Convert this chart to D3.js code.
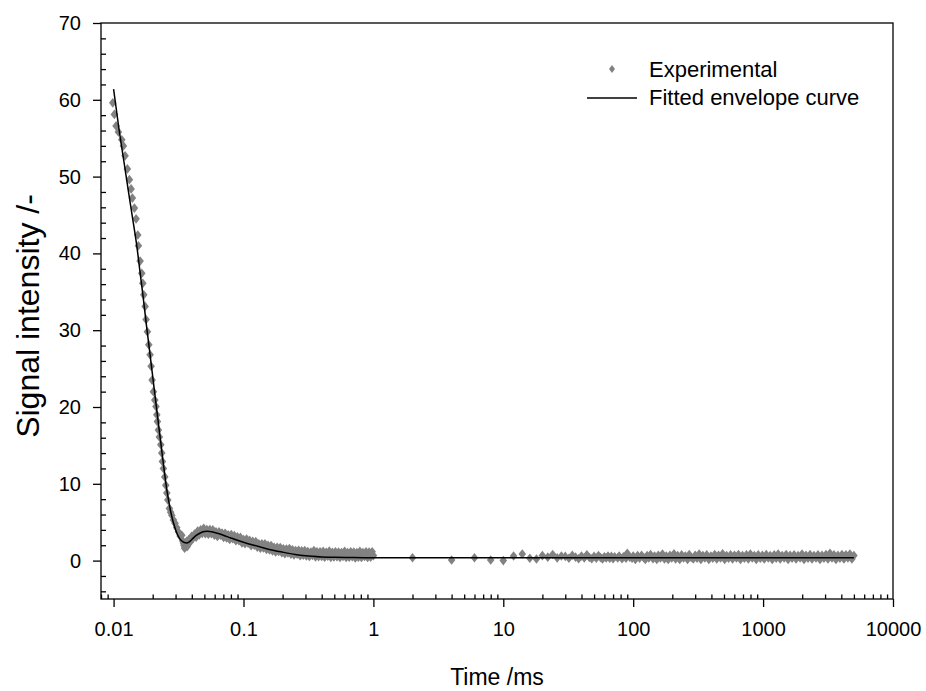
<!DOCTYPE html>
<html>
<head>
<meta charset="utf-8">
<script src="https://cdn.jsdelivr.net/npm/d3@7"></script>
<style>
  body { margin: 0; background: #fff; }
  svg text { font-family: "Liberation Sans", Arial, sans-serif; font-size: 22px; fill: #000; }
</style>
</head>
<body>
<div id="grafica"></div>
<script>
// steep initial decay, experimental points
const decayTime = [0.00986, 0.01014, 0.01045, 0.01089, 0.01156, 0.0119, 0.01226, 0.01277, 0.01323, 0.01364,
  0.01395, 0.01446, 0.0149, 0.01535, 0.01552, 0.016, 0.01648, 0.01679, 0.01708, 0.01748,
  0.01779, 0.01821, 0.01866, 0.0191, 0.01944, 0.01979, 0.02025, 0.02076, 0.0212, 0.02151,
  0.02174, 0.02213, 0.02252, 0.02309, 0.0235, 0.02375, 0.02417, 0.02478, 0.02522, 0.02568,
  0.02614, 0.02689, 0.0275, 0.02806, 0.0289, 0.02974, 0.0306, 0.03154, 0.0325, 0.0335,
  0.034, 0.0345, 0.0348, 0.0352, 0.0355, 0.036, 0.0365];
const decaySignal = [59.6, 58.1, 56.6, 55.8, 54.8, 54.0, 52.7, 51.0, 49.6, 48.4,
  47.2, 45.9, 44.5, 42.4, 41.0, 39.0, 37.4, 36.1, 34.6, 33.1,
  31.4, 29.8, 28.1, 26.8, 25.3, 23.5, 22.0, 20.9, 20.05, 19.0,
  18.1, 17.0, 16.1, 15.1, 14.0, 12.9, 12.0, 10.9, 9.8, 8.8,
  7.9, 6.8, 6.3, 5.9, 5.3, 4.85, 4.3, 3.75, 3.2, 3.3,
  2.6, 2.3, 2.0, 1.6, 1.8, 2.0, 2.5];

// bump and slow decay up to 1 ms
const bumpTime = [0.0368, 0.0378, 0.0388, 0.0398, 0.0409, 0.042, 0.0432, 0.0444, 0.0456, 0.0468,
  0.0481, 0.0494, 0.0508, 0.0522, 0.0536, 0.0551, 0.0566, 0.0581, 0.0597, 0.0614,
  0.063, 0.0648, 0.0666, 0.0684, 0.0703, 0.0722, 0.0742, 0.0762, 0.0783, 0.0805,
  0.0827, 0.085, 0.0873, 0.0897, 0.0922, 0.0947, 0.0973, 0.1, 0.1027, 0.1056,
  0.1085, 0.1115, 0.1145, 0.1177, 0.1209, 0.1243, 0.1277, 0.1312, 0.1348, 0.1385,
  0.1423, 0.1462, 0.1503, 0.1544, 0.1587, 0.163, 0.1675, 0.1721, 0.1769, 0.1817,
  0.1867, 0.1919, 0.1972, 0.2026, 0.2082, 0.2139, 0.2198, 0.2258, 0.232, 0.2384,
  0.245, 0.2517, 0.2587, 0.2658, 0.2731, 0.2806, 0.2883, 0.2963, 0.3044, 0.3128,
  0.3214, 0.3303, 0.3394, 0.3487, 0.3583, 0.3682, 0.3783, 0.3887, 0.3994, 0.4104,
  0.4217, 0.4333, 0.4453, 0.4575, 0.4701, 0.4831, 0.4964, 0.51, 0.524, 0.5385,
  0.5533, 0.5685, 0.5841, 0.6002, 0.6167, 0.6337, 0.6511, 0.669, 0.6874, 0.7063,
  0.7257, 0.7457, 0.7662, 0.7872, 0.8089, 0.8311, 0.854, 0.8775, 0.9016, 0.9264,
  0.9519, 0.978, 1.0];
const bumpSignal = [1.8, 2.7, 2.4, 3.15, 2.9, 3.45, 3.05, 3.85, 3.35, 4.0,
  3.55, 4.2, 3.5, 4.05, 3.43, 4.05, 3.5, 4.0, 3.3, 3.75,
  3.15, 3.75, 3.3, 3.6, 3.0, 3.55, 2.95, 3.35, 2.75, 3.4,
  2.85, 3.25, 2.6, 3.1, 2.6, 3.02, 2.3, 2.75, 2.2, 2.8,
  2.25, 2.65, 1.95, 2.5, 2.0, 2.47, 1.75, 2.2, 1.6, 2.2,
  1.65, 2.2, 1.45, 2.0, 1.4, 1.95, 1.26, 1.72, 1.13, 1.74,
  1.2, 1.71, 1.02, 1.53, 0.9, 1.52, 0.99, 1.56, 0.83, 1.4,
  0.72, 1.3, 0.82, 1.35, 0.63, 1.26, 0.69, 1.32, 0.6, 1.19,
  0.53, 1.12, 0.66, 1.3, 0.49, 1.13, 0.52, 1.16, 0.55, 1.2,
  0.44, 1.09, 0.58, 1.23, 0.42, 1.07, 0.46, 1.16, 0.51, 1.1,
  0.4, 1.05, 0.55, 1.2, 0.4, 1.05, 0.45, 1.15, 0.5, 1.1,
  0.35, 1.05, 0.45, 1.2, 0.4, 1.05, 0.55, 1.15, 0.4, 1.1,
  0.45, 1.15, 0.65];

// long tail, sampled every 2 ms
const tailTime = [2, 4, 6, 8, 10, 12, 14, 16, 18, 20, 22, 24, 26, 28,
  30, 32, 34, 36, 38, 40, 42, 44, 46, 48, 50, 52, 54, 56, 58, 60, 62, 64, 66, 68, 70,
  72, 76, 78, 82, 84, 88, 90, 94, 98, 100, 104, 108, 112, 116, 120, 124, 128, 132, 136,
  142, 146, 152, 156, 162, 168, 174, 180, 186, 192, 198, 206, 212, 220, 228, 236, 244,
  252, 262, 270, 280, 290, 300, 310, 322, 332, 344, 356, 368, 382, 396, 410, 424, 440,
  454, 470, 488, 506, 524, 542, 562, 582, 602, 624, 646, 670, 694, 718, 744, 770, 798,
  826, 856, 886, 918, 952, 986, 1020, 1058, 1096, 1134, 1176, 1218, 1262, 1306, 1354,
  1402, 1452, 1504, 1558, 1614, 1672, 1732, 1794, 1858, 1926, 1994, 2066, 2140, 2218,
  2298, 2380, 2466, 2554, 2646, 2742, 2840, 2942, 3048, 3158, 3272, 3390, 3512, 3638,
  3768, 3904, 4044, 4190, 4340, 4496, 4658, 4826, 5000];
const tailSignal = [0.37, 0.07, 0.37, 0.07, 0.0, 0.6, 0.85, 0.3, 0.2, 0.65, 0.45, 0.8, 0.35, 0.6,
  0.55, 0.3, 0.7, 0.45, 0.25, 0.6, 0.35, 0.75, 0.4, 0.25, 0.55, 0.3, 0.65, 0.4, 0.2, 0.5, 0.35, 0.6, 0.3, 0.55, 0.25,
  0.5, 0.35, 0.6, 0.25, 0.5, 0.3, 0.95, 0.45, 0.3, 0.6, 0.15, 0.65, 0.3, 0.7, 0.4, 0.15, 0.65, 0.35, 0.8,
  0.25, 0.6, 0.15, 0.7, 0.35, 0.85, 0.2, 0.6, 0.15, 0.7, 0.35, 0.9, 0.2, 0.65, 0.15, 0.75, 0.35,
  0.6, 0.15, 0.8, 0.4, 0.2, 0.7, 0.3, 0.85, 0.15, 0.65, 0.35, 0.75, 0.15, 0.6, 0.3, 0.8, 0.2,
  0.7, 0.35, 0.9, 0.15, 0.65, 0.3, 0.75, 0.2, 0.7, 0.35, 0.8, 0.15, 0.65, 0.3, 0.75, 0.2, 0.85,
  0.35, 0.65, 0.15, 0.75, 0.3, 0.7, 0.2, 0.8, 0.35, 0.65, 0.15, 0.75, 0.3, 0.85, 0.2,
  0.65, 0.35, 0.8, 0.15, 0.7, 0.3, 0.75, 0.2, 0.65, 0.35, 0.85, 0.15, 0.7, 0.3,
  0.8, 0.2, 0.65, 0.35, 0.75, 0.15, 0.7, 0.3, 0.8, 0.2, 0.95, 0.35, 0.75, 0.15,
  0.7, 0.3, 0.8, 0.2, 0.75, 0.35, 0.85, 0.2, 0.65];

// fitted envelope curve
const fitTime = [0.01, 0.011, 0.012, 0.013, 0.014, 0.015, 0.016, 0.017, 0.018, 0.019,
  0.02, 0.0215, 0.0235, 0.0257, 0.0281, 0.0295, 0.0307, 0.032, 0.0335, 0.035,
  0.0365, 0.038, 0.04, 0.043, 0.0465, 0.05, 0.053, 0.057, 0.063, 0.07,
  0.08, 0.09, 0.1, 0.12, 0.15, 0.2, 0.25, 0.3, 0.4, 0.5, 0.7, 1, 5000];
const fitSignal = [61.4, 56.2, 52.0, 48.1, 44.6, 41.3, 37.5, 33.9, 30.3, 27.1,
  24.0, 19.6, 14.3, 9.2, 5.7, 4.4, 3.55, 2.95, 2.55, 2.35,
  2.3, 2.4, 2.75, 3.25, 3.6, 3.78, 3.82, 3.75, 3.55, 3.3,
  2.95, 2.65, 2.4, 2.0, 1.55, 1.1, 0.8, 0.63, 0.48, 0.42, 0.39, 0.38, 0.38];

const yMajor = [0, 10, 20, 30, 40, 50, 60, 70];
const xMajor = [0.01, 0.1, 1, 10, 100, 1000, 10000];
const xLabels = ["0.01", "0.1", "1", "10", "100", "1000", "10000"];

const ancho = 926, altura = 691;
const izq = 101, der = 893, arriba = 23, abajo = 599;

const svg = d3.select("#grafica").append("svg")
  .attr("width", ancho)
  .attr("height", altura);

const x = d3.scaleLog().domain([0.008, 10000]).range([izq, der]);
const y = d3.scaleLinear().domain([-5, 70]).range([abajo, arriba]);

// minor ticks: every 2 units on y, 2..9 per decade on x
const yMinor = d3.range(-4, 70, 2).filter(v => v % 10 !== 0);
const xMinor = [];
[0.001, 0.01, 0.1, 1, 10, 100, 1000].forEach(d => {
  for (let k = 2; k <= 9; k++) {
    const v = +(d * k).toPrecision(3);
    if (v >= 0.008 && v < 10000) xMinor.push(v);
  }
});

const ejes = svg.append("g").attr("stroke-width", 1.3);

ejes.append("g")
  .attr("transform", "translate(" + izq + ",0)")
  .call(d3.axisLeft(y).tickValues(yMinor).tickSize(-5).tickSizeOuter(0).tickFormat(""))
  .call(g => g.select(".domain").remove());

ejes.append("g")
  .attr("transform", "translate(0," + abajo + ")")
  .call(d3.axisBottom(x).tickValues(xMinor).tickSize(-4.5).tickSizeOuter(0).tickFormat(""))
  .call(g => g.select(".domain").remove());

const ejeY = ejes.append("g")
  .attr("transform", "translate(" + izq + ",0)")
  .call(d3.axisLeft(y).tickValues(yMajor).tickSize(8).tickSizeOuter(0).tickPadding(12).tickFormat(d3.format("d")));
ejeY.select(".domain").remove();

const ejeX = ejes.append("g")
  .attr("transform", "translate(0," + abajo + ")")
  .call(d3.axisBottom(x).tickValues(xMajor).tickSize(8).tickSizeOuter(0).tickPadding(15)
    .tickFormat((d, i) => xLabels[i]));
ejeX.select(".domain").remove();

ejes.selectAll(".tick line").attr("stroke", "#000").attr("stroke-width", 1.3);
ejes.selectAll("text")
  .attr("font-family", "Liberation Sans, Arial, sans-serif")
  .attr("fill", "#000")
  .style("font-size", "20px");

// plot frame
svg.append("rect")
  .attr("x", izq).attr("y", arriba)
  .attr("width", der - izq).attr("height", abajo - arriba)
  .attr("fill", "none").attr("stroke", "#000").attr("stroke-width", 1.3);

// experimental points
const puntos = [];
decayTime.forEach((t, i) => puntos.push([t, decaySignal[i]]));
bumpTime.forEach((t, i) => puntos.push([t, bumpSignal[i]]));
tailTime.forEach((t, i) => puntos.push([t, tailSignal[i]]));

const diamante = (cx, cy, w, h) =>
  "M" + cx + "," + (cy - h) + "L" + (cx + w) + "," + cy + "L" + cx + "," + (cy + h) + "L" + (cx - w) + "," + cy + "Z";

svg.append("g").selectAll("path")
  .data(puntos)
  .enter().append("path")
  .attr("d", d => diamante(x(d[0]), y(d[1]), 3.8, 4.8))
  .attr("fill", "#828282");

// fitted curve
const linea = d3.line()
  .x(d => x(d[0]))
  .y(d => y(d[1]))
  .curve(d3.curveMonotoneX);

svg.append("path")
  .datum(fitTime.map((t, i) => [t, fitSignal[i]]))
  .attr("d", linea)
  .attr("fill", "none")
  .attr("stroke", "#000")
  .attr("stroke-width", 1.5);

// legend
const leyenda = svg.append("g");
leyenda.append("path")
  .attr("d", diamante(612, 69, 3, 4))
  .attr("fill", "#828282");
leyenda.append("text").attr("x", 649).attr("y", 77).text("Experimental");
leyenda.append("line")
  .attr("x1", 587).attr("x2", 637).attr("y1", 98).attr("y2", 98)
  .attr("stroke", "#000").attr("stroke-width", 1.3);
leyenda.append("text").attr("x", 649).attr("y", 105).text("Fitted envelope curve");

// axis titles
svg.append("text")
  .attr("x", 497).attr("y", 685)
  .attr("text-anchor", "middle")
  .style("font-size", "23px")
  .text("Time /ms");

svg.append("text")
  .attr("transform", "translate(39,316) rotate(-90)")
  .attr("text-anchor", "middle")
  .style("font-size", "32px")
  .text("Signal intensity /-");
</script>
</body>
</html>
